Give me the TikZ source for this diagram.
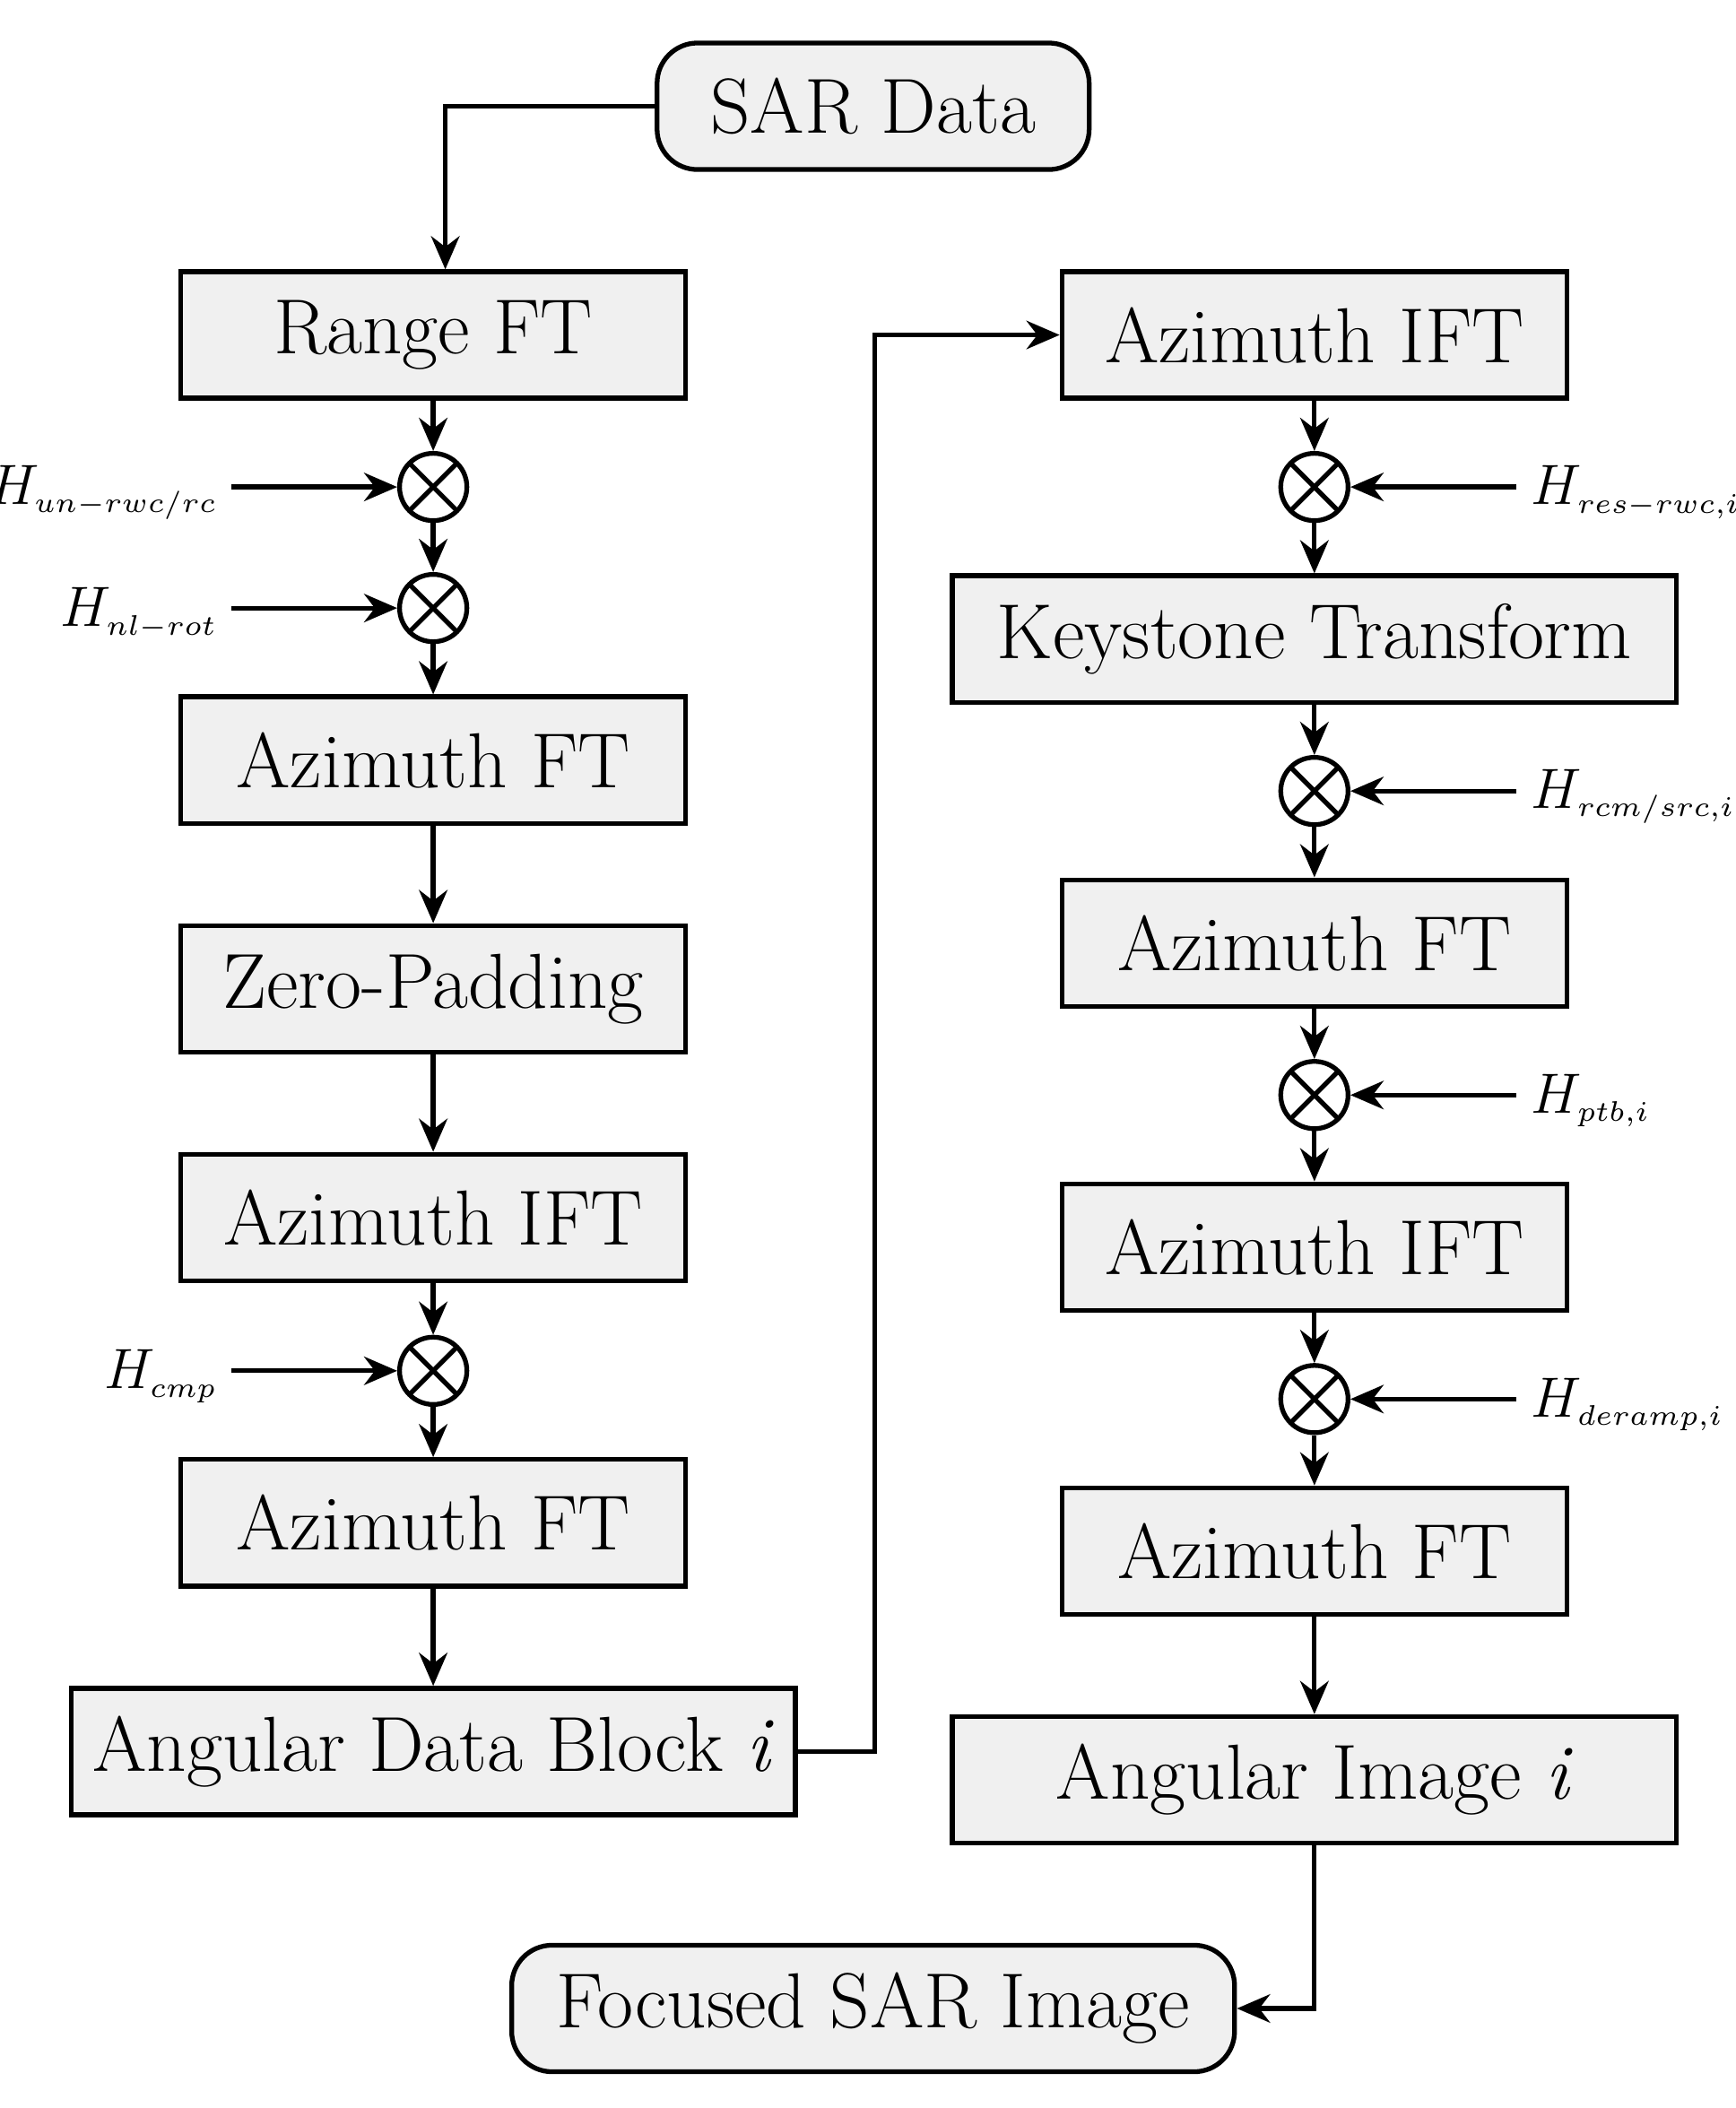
\documentclass[tikz,border=0pt]{standalone}
\usetikzlibrary{arrows.meta}
\newcommand{\hs}[1]{H_{\scriptscriptstyle #1}}
\begin{document}
\begin{tikzpicture}[x=0.01cm,y=-0.01cm,
  box/.style={draw,line width=1pt,fill=black!6,minimum width=3.75cm,minimum height=0.94cm,inner sep=0pt,font=\fontsize{16.5}{18}\selectfont},
  wbox/.style={box,minimum width=5.38cm},
  term/.style={box,rounded corners=0.3cm},
  mul/.style={draw,circle,line width=1pt,minimum size=0.5cm,inner sep=0pt,path picture={
    \draw[line width=1pt] (path picture bounding box.south west)--(path picture bounding box.north east)
      (path picture bounding box.north west)--(path picture bounding box.south east);}},
  lab/.style={font=\fontsize{12}{14}\selectfont,inner sep=1pt},
  ar/.style={-{Stealth[length=7pt,width=6pt]},line width=1pt}]
\useasboundingbox (0,0) rectangle (1290,1567);
\node[term,minimum width=3.21cm] (sar) at (649,79) {SAR Data};
\node[box] (l1) at (322,249) {Range FT};
\node[mul] (m1) at (322,362) {};
\node[mul] (m2) at (322,452) {};
\node[box] (l2) at (322,565) {Azimuth FT};
\node[box] (l3) at (322,735) {Zero-Padding};
\node[box] (l4) at (322,905) {Azimuth IFT};
\node[mul] (m3) at (322,1019) {};
\node[box] (l5) at (322,1132) {Azimuth FT};
\node[wbox] (l6) at (322,1302) {Angular Data Block \textit{i}};
\node[box] (r1) at (977,249) {Azimuth IFT};
\node[mul] (n1) at (977,362) {};
\node[wbox] (r2) at (977,475) {Keystone Transform};
\node[mul] (n2) at (977,588) {};
\node[box] (r3) at (977,701) {Azimuth FT};
\node[mul] (n3) at (977,814) {};
\node[box] (r4) at (977,927) {Azimuth IFT};
\node[mul] (n4) at (977,1040) {};
\node[box] (r5) at (977,1153) {Azimuth FT};
\node[wbox] (r6) at (977,1323) {Angular Image \textit{i}};
\node[term,minimum width=5.37cm] (foc) at (649,1493) {Focused SAR Image};
\node[lab,anchor=east] (h1) at (166,366) {$\hs{un-rwc/rc}$};
\node[lab,anchor=east] (h2) at (166,456) {$\hs{nl-rot}$};
\node[lab,anchor=east] (h3) at (166,1023) {$\hs{cmp}$};
\node[lab,anchor=west] (g1) at (1134,366) {$\hs{res-rwc,i}$};
\node[lab,anchor=west] (g2) at (1134,592) {$\hs{rcm/src,i}$};
\node[lab,anchor=west] (g3) at (1134,818) {$\hs{ptb,i}$};
\node[lab,anchor=west] (g4) at (1134,1044) {$\hs{deramp,i}$};
\coordinate (c0) at (331,79);
\draw[ar] (sar.west) -- (c0) -- (c0|-l1.north);
\draw[ar] (l1) -- (m1); \draw[ar] (m1) -- (m2); \draw[ar] (m2) -- (l2);
\draw[ar] (l2) -- (l3); \draw[ar] (l3) -- (l4); \draw[ar] (l4) -- (m3);
\draw[ar] (m3) -- (l5); \draw[ar] (l5) -- (l6);
\draw[ar] (172,362) -- (m1); \draw[ar] (172,452) -- (m2); \draw[ar] (172,1019) -- (m3);
\coordinate (c1) at (650,1302);
\draw[ar] (l6.east) -- (c1) -- (c1|-r1) -- (r1.west);
\draw[ar] (r1) -- (n1); \draw[ar] (n1) -- (r2); \draw[ar] (r2) -- (n2);
\draw[ar] (n2) -- (r3); \draw[ar] (r3) -- (n3); \draw[ar] (n3) -- (r4);
\draw[ar] (r4) -- (n4); \draw[ar] (n4) -- (r5); \draw[ar] (r5) -- (r6);
\draw[ar] (1127,362) -- (n1); \draw[ar] (1127,588) -- (n2);
\draw[ar] (1127,814) -- (n3); \draw[ar] (1127,1040) -- (n4);
\draw[ar] (r6.south) |- (foc.east);
\end{tikzpicture}
\end{document}
